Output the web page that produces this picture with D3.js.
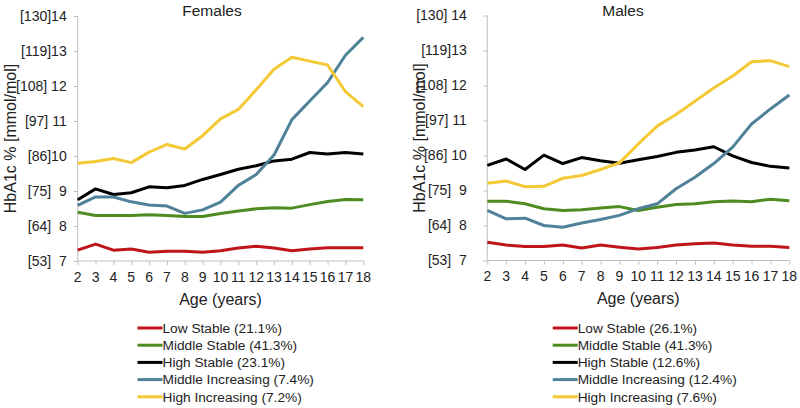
<!DOCTYPE html>
<meta charset="utf-8">
<style>
  body { margin: 0; background: #fff; }
  svg text { font-family: "Liberation Sans", Arial, sans-serif; fill: #222; }
  .axis line, .axis path { stroke: #bfbfbf; }
</style>
<svg width="800" height="408"></svg>
<script src="https://d3js.org/d3.v7.min.js"></script>
<script>
  // data
  var ages = [2, 3, 4, 5, 6, 7, 8, 9, 10, 11, 12, 13, 14, 15, 16, 17, 18];
  var pctTicks = [7, 8, 9, 10, 11, 12, 13, 14];
  var femaleTickLabels = ["[53]  7", "[64]  8", "[75]  9", "[86]10", "[97] 11", "[108] 12", "[119]13", "[130]14"];
  var maleTickLabels = ["[53]  7", "[64]  8", "[75]  9", "[86] 10", "[97] 11", "[108] 12", "[119]13", "[130] 14"];
  var groupNames = ["Low Stable", "Middle Stable", "High Stable", "Middle Increasing", "High Increasing"];
  var groupColors = ["#c0141b", "#4e8c22", "#000000", "#4f8198", "#f4c936"];
  var femaleShares = ["21.1%", "41.3%", "23.1%", "7.4%", "7.2%"];
  var maleShares = ["26.1%", "41.3%", "12.6%", "12.4%", "7.6%"];

  var femaleLowStable = [7.31, 7.48, 7.31, 7.34, 7.25, 7.28, 7.28, 7.25, 7.29, 7.37, 7.42, 7.37, 7.29, 7.34, 7.38, 7.38, 7.38];
  var femaleMiddleStable = [8.39, 8.3, 8.3, 8.3, 8.32, 8.3, 8.27, 8.27, 8.36, 8.43, 8.49, 8.52, 8.51, 8.61, 8.7, 8.76, 8.75];
  var femaleHighStable = [8.75, 9.06, 8.9, 8.95, 9.12, 9.09, 9.16, 9.33, 9.47, 9.62, 9.72, 9.86, 9.91, 10.1, 10.06, 10.1, 10.06];
  var femaleMiddleIncreasing = [8.59, 8.83, 8.83, 8.69, 8.6, 8.57, 8.36, 8.46, 8.68, 9.16, 9.47, 10.03, 11.04, 11.57, 12.1, 12.88, 13.39];
  var femaleHighIncreasing = [9.79, 9.84, 9.93, 9.81, 10.11, 10.33, 10.2, 10.58, 11.06, 11.33, 11.89, 12.48, 12.82, 12.71, 12.6, 11.84, 11.41];

  var maleLowStable = [7.52, 7.44, 7.4, 7.4, 7.44, 7.36, 7.44, 7.38, 7.33, 7.37, 7.44, 7.48, 7.5, 7.44, 7.41, 7.41, 7.37];
  var maleMiddleStable = [8.69, 8.69, 8.62, 8.48, 8.43, 8.45, 8.5, 8.54, 8.43, 8.52, 8.6, 8.62, 8.68, 8.7, 8.68, 8.75, 8.71];
  var maleHighStable = [9.72, 9.9, 9.6, 10.01, 9.77, 9.94, 9.85, 9.78, 9.88, 9.97, 10.09, 10.16, 10.25, 9.99, 9.8, 9.69, 9.64];
  var maleMiddleIncreasing = [8.43, 8.19, 8.21, 8.0, 7.95, 8.07, 8.17, 8.29, 8.48, 8.62, 9.05, 9.38, 9.77, 10.24, 10.9, 11.33, 11.73];
  var maleHighIncreasing = [9.21, 9.27, 9.11, 9.12, 9.35, 9.43, 9.6, 9.79, 10.33, 10.84, 11.17, 11.55, 11.93, 12.27, 12.68, 12.71, 12.54];

  var svg = d3.select("svg");

  function drawPanel(opt) {
    var x = d3.scaleLinear().domain([2, 18]).range([opt.x0, opt.x1]);
    var y = d3.scaleLinear().domain([7, 14]).range([opt.y0, opt.y1]);
    var g = svg.append("g");

    // axes
    var yAxis = g.append("g").attr("class", "axis")
      .attr("transform", "translate(" + opt.x0 + ",0)")
      .call(d3.axisLeft(y).tickValues(pctTicks).tickSize(4).tickFormat(""));
    yAxis.select(".domain").attr("d", "M0," + opt.y0 + "V" + opt.y1);
    var xAxis = g.append("g").attr("class", "axis")
      .attr("transform", "translate(0," + opt.y0 + ")")
      .call(d3.axisBottom(x).tickValues(ages).tickSize(4).tickFormat(""));
    xAxis.select(".domain").attr("d", "M" + opt.x0 + ",0H" + opt.x1);

    // y tick labels
    g.selectAll(".ylab").data(pctTicks).enter().append("text")
      .attr("x", opt.x0 - opt.labGap)
      .attr("y", function(d) { return y(d); })
      .attr("dy", "0.35em")
      .attr("text-anchor", "end")
      .style("white-space", "pre")
      .style("font-size", "14px")
      .text(function(d, i) { return opt.tickLabels[i]; });

    // x tick labels
    g.selectAll(".xlab").data(ages).enter().append("text")
      .attr("x", function(d) { return x(d); })
      .attr("y", opt.y0 + 16)
      .attr("dy", "0.35em")
      .attr("text-anchor", "middle")
      .style("font-size", "14px")
      .text(function(d) { return d; });

    g.append("text")
      .attr("x", (opt.x0 + opt.x1) / 2)
      .attr("y", opt.y0 + 38)
      .attr("dy", "0.35em")
      .attr("text-anchor", "middle")
      .style("font-size", "16px")
      .text("Age (years)");

    g.append("text")
      .attr("transform", "translate(" + opt.yTitleX + "," + (opt.y0 + opt.y1) / 2 + ") rotate(-90)")
      .attr("dy", "0.35em")
      .attr("text-anchor", "middle")
      .style("font-size", "16px")
      .text("HbA1c % [mmol/mol]");

    g.append("text")
      .attr("x", opt.titleX)
      .attr("y", 11)
      .attr("dy", "0.35em")
      .attr("text-anchor", "middle")
      .style("font-size", "15.5px")
      .text(opt.title);

    // lines
    var line = d3.line()
      .x(function(d, i) { return x(ages[i]); })
      .y(function(d) { return y(d); });
    opt.series.forEach(function(s, i) {
      g.append("path")
        .attr("d", line(s))
        .attr("fill", "none")
        .attr("stroke", groupColors[i])
        .attr("stroke-width", 3)
        .attr("stroke-linejoin", "round");
    });

    // legend
    var leg = g.append("g");
    groupNames.forEach(function(name, i) {
      var ly = 328 + i * 17.2;
      leg.append("line")
        .attr("x1", opt.legX).attr("x2", opt.legX + 25)
        .attr("y1", ly).attr("y2", ly)
        .attr("stroke", groupColors[i])
        .attr("stroke-width", 3);
      leg.append("text")
        .attr("x", opt.legX + 25)
        .attr("y", ly)
        .attr("dy", "0.35em")
        .style("font-size", "13.7px")
        .text(name + " (" + opt.shares[i] + ")");
    });
  }

  drawPanel({
    title: "Females", titleX: 212,
    x0: 77.7, x1: 363.3, y0: 261, y1: 16,
    labGap: 11, yTitleX: 10,
    tickLabels: femaleTickLabels,
    series: [femaleLowStable, femaleMiddleStable, femaleHighStable, femaleMiddleIncreasing, femaleHighIncreasing],
    shares: femaleShares, legX: 137.5
  });

  drawPanel({
    title: "Males", titleX: 623,
    x0: 487.3, x1: 789.3, y0: 260.5, y1: 15.5,
    labGap: 20.5, yTitleX: 419,
    tickLabels: maleTickLabels,
    series: [maleLowStable, maleMiddleStable, maleHighStable, maleMiddleIncreasing, maleHighIncreasing],
    shares: maleShares, legX: 552.7
  });
</script>
